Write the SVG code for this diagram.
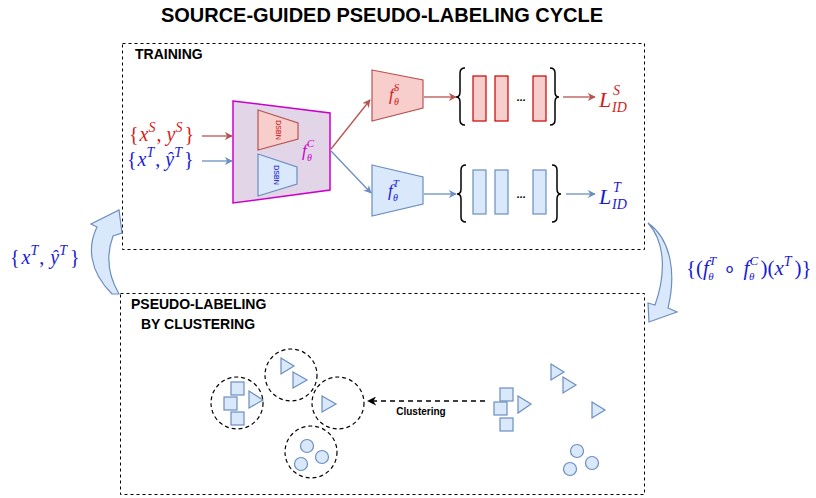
<svg xmlns="http://www.w3.org/2000/svg" width="816" height="498" viewBox="0 0 816 498">
<defs>
<style>
.title{font-family:"Liberation Sans",Arial,sans-serif;font-weight:bold;fill:#000}
.box{fill:none;stroke:#000;stroke-width:1;stroke-dasharray:3 3}
.m{font-family:"Liberation Serif","Times New Roman",serif}
.i{font-style:italic}
.red{fill:#D41A1A}
.blue{fill:#1A1AD4}
.mag{fill:#CC00CC}
.rfill{fill:#F8CECC;stroke:#B85450;stroke-width:1.2}
.bfill{fill:#DAE8FC;stroke:#6C8EBF;stroke-width:1.2}
.rrect{fill:#F8CECC;stroke:#CC0000;stroke-width:1.2}
.brace{fill:none;stroke:#000;stroke-width:1.5}
.rl{stroke:#B85450;stroke-width:1.3;fill:none}
.bl{stroke:#6C8EBF;stroke-width:1.3;fill:none}
.dc{fill:none;stroke:#000;stroke-width:1.2;stroke-dasharray:4 3}
.pt{fill:#DAE8FC;stroke:#6C8EBF;stroke-width:1.2}
</style>
<marker id="ar" viewBox="0 0 10 10" refX="9" refY="5" markerWidth="8" markerHeight="8" markerUnits="userSpaceOnUse" orient="auto"><path d="M0,0 L10,5 L0,10 L3,5 Z" fill="#B85450"/></marker>
<marker id="ab" viewBox="0 0 10 10" refX="9" refY="5" markerWidth="8" markerHeight="8" markerUnits="userSpaceOnUse" orient="auto"><path d="M0,0 L10,5 L0,10 L3,5 Z" fill="#6C8EBF"/></marker>
<marker id="ak" viewBox="0 0 10 10" refX="9" refY="5" markerWidth="9" markerHeight="9" markerUnits="userSpaceOnUse" orient="auto"><path d="M0,0 L10,5 L0,10 L3,5 Z" fill="#000"/></marker>
</defs>
<rect width="816" height="498" fill="#fff"/>
<text class="title" x="382" y="22" font-size="20" text-anchor="middle">SOURCE-GUIDED PSEUDO-LABELING CYCLE</text>

<g id="training">
<rect class="box" x="122.5" y="43.5" width="522" height="206"/>
<text class="title" x="135" y="59" font-size="14">TRAINING</text>
</g>
<g id="clustering">
<rect class="box" x="120.5" y="293.5" width="524" height="201"/>
<text class="title" x="131" y="309" font-size="14">PSEUDO-LABELING</text>
<text class="title" x="141" y="329" font-size="14">BY CLUSTERING</text>
</g>

<g id="input-source">
<text class="m red" x="129" y="141" font-size="20">{<tspan class="i" dx="1">x</tspan><tspan class="i" font-size="14" dy="-9">S</tspan><tspan dy="9" dx="1">,</tspan><tspan class="i" dx="5">y</tspan><tspan class="i" font-size="14" dy="-9">S</tspan><tspan dy="9" dx="2">}</tspan></text>
</g>
<g id="input-target">
<text class="m blue" x="127" y="166" font-size="20">{<tspan class="i" dx="1">x</tspan><tspan class="i" font-size="14" dy="-9">T</tspan><tspan dy="9" dx="1">,</tspan><tspan class="i" dx="5">ŷ</tspan><tspan class="i" font-size="14" dy="-9">T</tspan><tspan dy="9" dx="2">}</tspan></text>
</g>

<g id="encoder">
<polygon points="233,101 330,113 330,190 233,203" fill="#E1D5E7" stroke="#CC00CC" stroke-width="1.5"/>
<polygon class="rfill" points="258,110 298,123 298,139 258,150"/>
<text x="278" y="130" font-family="Liberation Sans,Arial,sans-serif" font-size="7" fill="#CC0000" text-anchor="middle" dominant-baseline="middle" transform="rotate(90 278 130)">DSBN</text>
<polygon class="bfill" points="258,154 297,167 297,184 258,196"/>
<text x="276" y="175" font-family="Liberation Sans,Arial,sans-serif" font-size="7" fill="#0000CC" text-anchor="middle" dominant-baseline="middle" transform="rotate(90 276 175)">DSBN</text>
<text class="m mag" x="302" y="156" font-size="17"><tspan class="i">f</tspan><tspan class="i" font-size="11" dy="-9">C</tspan><tspan class="i" font-size="10" x="307" dy="14">θ</tspan></text>
</g>

<g id="source-head">
<polygon class="rfill" points="372,70 423,80 423,108 372,121"/>
<text class="m red" x="389" y="100" font-size="17"><tspan class="i">f</tspan><tspan class="i" font-size="11" dy="-9">S</tspan><tspan class="i" font-size="10" x="394" dy="14">θ</tspan></text>
</g>
<g id="target-head">
<polygon class="bfill" points="372,165 423,177 423,204 372,216"/>
<text class="m blue" x="388" y="196" font-size="17"><tspan class="i">f</tspan><tspan class="i" font-size="11" dy="-9">T</tspan><tspan class="i" font-size="10" x="393" dy="14">θ</tspan></text>
</g>

<g id="source-features">
<path class="brace" d="M465,68 Q460,68 460,73 L460,92 Q460,97 456,97 Q460,97 460,102 L460,120 Q460,125 465,125"/>
<rect class="rrect" x="473" y="76" width="13" height="45"/>
<rect class="rrect" x="495" y="76" width="13" height="45"/>
<text x="521" y="101" font-family="Liberation Sans,Arial,sans-serif" font-size="11" font-weight="bold" text-anchor="middle">...</text>
<rect class="rrect" x="533" y="76" width="13" height="45"/>
<path class="brace" d="M550,68 Q555,68 555,73 L555,92 Q555,97 559,97 Q555,97 555,102 L555,120 Q555,125 550,125"/>
</g>
<g id="target-features">
<path class="brace" d="M466,165 Q461,165 461,170 L461,189 Q461,194 457,194 Q461,194 461,199 L461,217 Q461,222 466,222"/>
<rect class="bfill" x="473" y="170" width="13" height="44"/>
<rect class="bfill" x="495" y="170" width="13" height="44"/>
<text x="521" y="198" font-family="Liberation Sans,Arial,sans-serif" font-size="11" font-weight="bold" text-anchor="middle">...</text>
<rect class="bfill" x="533" y="170" width="13" height="44"/>
<path class="brace" d="M552,165 Q557,165 557,170 L557,189 Q557,194 561,194 Q557,194 557,199 L557,217 Q557,222 552,222"/>
</g>

<g id="loss-source">
<text class="m red" x="599" y="107" font-size="22"><tspan class="i">L</tspan><tspan class="i" font-size="14" x="613" y="95">S</tspan><tspan class="i" font-size="14" x="612" y="112">ID</tspan></text>
</g>
<g id="loss-target">
<text class="m blue" x="599" y="204" font-size="22"><tspan class="i">L</tspan><tspan class="i" font-size="14" x="613" y="192">T</tspan><tspan class="i" font-size="14" x="612" y="209">ID</tspan></text>
</g>

<g id="label-left">
<text class="m blue" x="10" y="264" font-size="20">{<tspan class="i" dx="2">x</tspan><tspan class="i" font-size="14" dy="-9">T</tspan><tspan dy="9" dx="1">,</tspan><tspan class="i" dx="6">ŷ</tspan><tspan class="i" font-size="14" dy="-9">T</tspan><tspan dy="9" dx="3">}</tspan></text>
</g>
<g id="label-right">
<text class="m blue" x="686" y="275" font-size="21">{(<tspan class="i">f</tspan><tspan class="i" font-size="13" dy="-10">T</tspan><tspan class="i" font-size="11" dx="-8" dy="15">θ</tspan><tspan dx="9" dy="-5">∘</tspan><tspan class="i" dx="8">f</tspan><tspan class="i" font-size="13" dy="-10">C</tspan><tspan class="i" font-size="11" dx="-9" dy="15">θ</tspan><tspan dx="6" dy="-5">)(</tspan><tspan class="i">x</tspan><tspan class="i" font-size="14" dy="-9">T</tspan><tspan dy="9" dx="3">)}</tspan></text>
</g>

<g id="cluster-points">
<circle class="dc" cx="237" cy="403" r="26"/>
<rect class="pt" x="231" y="382" width="13" height="13"/>
<rect class="pt" x="224" y="397" width="13" height="13"/>
<rect class="pt" x="231" y="412" width="13" height="13"/>
<polygon class="pt" points="249,391 263,400 249,408"/>
<circle class="dc" cx="291" cy="375" r="26"/>
<polygon class="pt" points="281,358 294,366 281,374"/>
<polygon class="pt" points="293,372 307,380 293,388"/>
<circle class="dc" cx="338" cy="403" r="26"/>
<polygon class="pt" points="322,396 336,404 322,412"/>
<circle class="dc" cx="311" cy="452" r="26"/>
<circle class="pt" cx="307" cy="446" r="6.5"/>
<circle class="pt" cx="322" cy="457" r="6.5"/>
<circle class="pt" cx="301" cy="464" r="6.5"/>
</g>
<g id="raw-points">
<rect class="pt" x="500" y="388" width="13" height="13"/>
<rect class="pt" x="494" y="402" width="13" height="13"/>
<rect class="pt" x="500" y="418" width="13" height="13"/>
<polygon class="pt" points="518,396 531,404 518,413"/>
<polygon class="pt" points="551,364 564,372 551,380"/>
<polygon class="pt" points="563,377 576,385 563,393"/>
<polygon class="pt" points="592,402 605,410 592,418"/>
<circle class="pt" cx="577" cy="451" r="6.5"/>
<circle class="pt" cx="592" cy="463" r="6.5"/>
<circle class="pt" cx="570" cy="469" r="6.5"/>
</g>

<g id="connectors">
<line class="rl" x1="202" y1="136" x2="232" y2="136" marker-end="url(#ar)"/>
<line class="bl" x1="202" y1="161" x2="232" y2="161" marker-end="url(#ab)"/>
<line class="rl" x1="331" y1="149" x2="370" y2="100" marker-end="url(#ar)"/>
<line class="bl" x1="331" y1="151" x2="371" y2="193" marker-end="url(#ab)"/>
<line class="rl" x1="424" y1="97" x2="456" y2="97" marker-end="url(#ar)"/>
<line class="bl" x1="424" y1="194" x2="456" y2="194" marker-end="url(#ab)"/>
<line class="rl" x1="563" y1="97" x2="595" y2="97" marker-end="url(#ar)"/>
<line class="bl" x1="566" y1="194" x2="595" y2="194" marker-end="url(#ab)"/>
<line x1="485" y1="401" x2="368" y2="401" stroke="#000" stroke-width="1.5" stroke-dasharray="5 4" marker-end="url(#ak)"/>
<text x="421" y="415" font-family="Liberation Sans,Arial,sans-serif" font-size="10" font-weight="bold" text-anchor="middle">Clustering</text>
<path d="M112,294 C88,270 88,245 97,227 L91,224 L119,210 L122,233 L113,236 C106,255 108,275 119,294 Z" fill="#DAE8FC" stroke="#6C8EBF" stroke-width="1.2"/>
<path d="M648,223 C672,240 676,275 668,308 L677,312 L649,322 L648,303 L655,305 C664,280 668,245 648,223 Z" fill="#DAE8FC" stroke="#6C8EBF" stroke-width="1.2"/>
</g>
</svg>
